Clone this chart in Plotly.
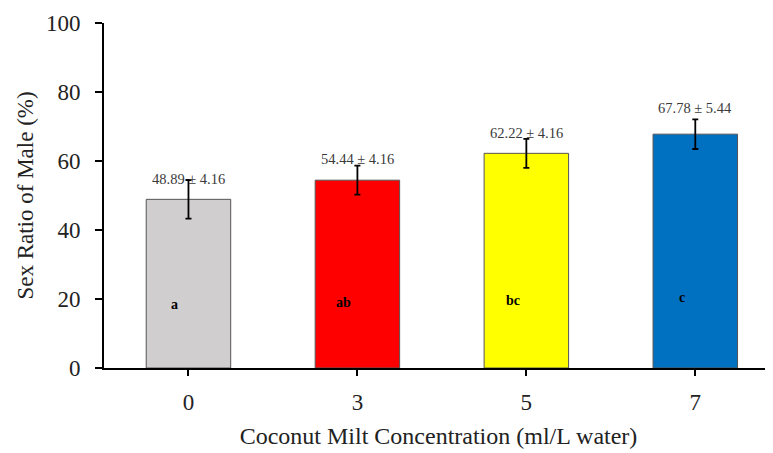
import plotly.graph_objects as go

categories = ["0", "3", "5", "7"]
means = [48.89, 54.44, 62.22, 67.78]
sd_labels = [4.16, 4.16, 4.16, 5.44]
err_drawn = [5.6, 4.2, 4.2, 4.3]
letters = ["a", "ab", "bc", "c"]
colors = ["#d0cece", "#ff0000", "#ffff00", "#0070c0"]

FONT = "Liberation Serif"

fig = go.Figure()
fig.add_trace(go.Bar(
    x=list(range(len(categories))), y=means, width=0.5,
    marker=dict(color=colors, line=dict(color="#555555", width=1)),
    error_y=dict(type="data", array=err_drawn, visible=True,
                 color="black", thickness=1.8, width=3),
    showlegend=False, hoverinfo="skip",
))

label_offsets = [0.3, 2.0, 1.7, 3.3]
letter_y = [18.5, 19.1, 19.7, 20.3]
for i, (m, s, e, L) in enumerate(zip(means, sd_labels, err_drawn, letters)):
    fig.add_annotation(x=i, y=m + e + label_offsets[i], text=f"{m:.2f} ± {s:.2f}",
                       showarrow=False, font=dict(family=FONT, size=14.5, color="#3a3a3a"))
    fig.add_annotation(x=i - 0.08, y=letter_y[i], text=f"<b>{L}</b>",
                       showarrow=False, font=dict(family=FONT, size=14, color="black"))

fig.update_layout(
    width=773, height=453,
    margin=dict(l=96, r=8, t=15, b=93),
    plot_bgcolor="white", paper_bgcolor="white",
    font=dict(family=FONT, color="#222222"),
    bargap=0.5,
)
fig.update_xaxes(
    range=[-0.5, 3.46], tickmode="array", tickvals=list(range(len(categories))),
    ticktext=categories, showline=True, linecolor="black", linewidth=1.8,
    ticks="outside", ticklen=6, tickwidth=1.8, tickcolor="black",
    tickfont=dict(family=FONT, size=23), ticklabelstandoff=6,
    showgrid=False, zeroline=False, automargin=False,
    title=dict(text="Coconut Milt Concentration (ml/L water)",
               font=dict(family=FONT, size=24), standoff=14),
)
fig.update_yaxes(
    range=[0, 100], tickvals=[0, 20, 40, 60, 80, 100],
    showline=True, linecolor="black", linewidth=1.8,
    ticks="outside", ticklen=7, tickwidth=1.8, tickcolor="black",
    tickfont=dict(family=FONT, size=23), ticklabelstandoff=10,
    showgrid=False, zeroline=False, automargin=False,
    title=dict(text="Sex Ratio of Male (%)", font=dict(family=FONT, size=23), standoff=6),
)

fig.write_html("out.html")
